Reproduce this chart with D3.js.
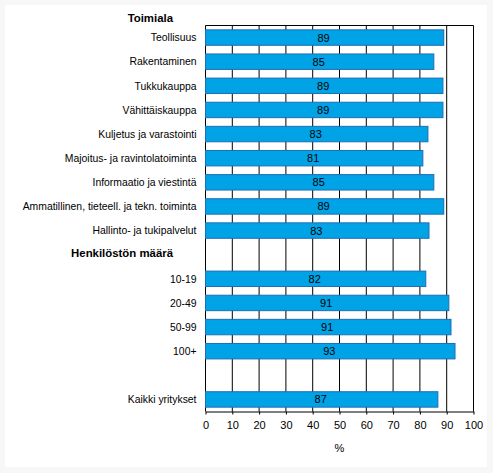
<!DOCTYPE html>
<html>
<head>
    <meta charset="utf-8" />
    <title>Toimiala</title>
    <script src="https://cdn.jsdelivr.net/npm/d3@7"></script>
    <style>
        body { margin: 0; background: #f7f7f7; }
        svg text { font-family: "Liberation Sans", Arial, sans-serif; font-size: 11px; fill: #000; }
        .cat { font-size: 10.4px; }
        .head { font-weight: bold; font-size: 11.4px; }
    </style>
</head>
<body>
    <svg width="493" height="473"></svg>
    <script>
        // rows of the chart, top to bottom ("" = empty slot, header rows have no bar)
        var categories = [
            'Teollisuus', 'Rakentaminen', 'Tukkukauppa', 'Vähittäiskauppa',
            'Kuljetus ja varastointi', 'Majoitus- ja ravintolatoiminta',
            'Informaatio ja viestintä', 'Ammatillinen, tieteell. ja tekn. toiminta',
            'Hallinto- ja tukipalvelut', 'Henkilöstön määrä',
            '10-19', '20-49', '50-99', '100+', '', 'Kaikki yritykset'
        ];
        var values = [88.9, 85.2, 88.6, 88.6, 83.0, 81.1, 85.2, 88.9, 83.4, null,
                      82.2, 90.8, 91.6, 93.1, null, 86.7];
        var labels = ['89', '85', '89', '89', '83', '81', '85', '89', '83', '',
                      '82', '91', '91', '93', '', '87'];
        var headers = ['Toimiala', 'Henkilöstön määrä'];
        var ticks = [0, 10, 20, 30, 40, 50, 60, 70, 80, 90, 100];

        var svg = d3.select('svg');
        var pLeft = 205.5, pRight = 473.5, pTop = 25.5, pBottom = 411.5;

        svg.append('rect').attr('x', 5).attr('y', 5).attr('width', 482).attr('height', 462).attr('fill', '#fff');

        var x = d3.scaleLinear().domain([0, 100]).range([pLeft, pRight]);
        var y = d3.scaleBand().domain(d3.range(categories.length)).range([pTop, pBottom]).paddingInner(0.36).paddingOuter(0.18);

        // grid lines
        svg.append('g').selectAll('line').data(ticks).enter().append('line')
            .attr('x1', function (d) { return x(d); })
            .attr('x2', function (d) { return x(d); })
            .attr('y1', pTop).attr('y2', pBottom)
            .attr('stroke', '#000').attr('stroke-width', 1);
        svg.append('line').attr('x1', pLeft).attr('x2', pRight).attr('y1', pTop).attr('y2', pTop).attr('stroke', '#000');

        // bars
        var rows = categories.map(function (c, i) { return { c: c, v: values[i], l: labels[i], i: i }; });
        var barRows = rows.filter(function (d) { return d.v !== null; });
        svg.append('g').selectAll('rect').data(barRows).enter().append('rect')
            .attr('x', x(0))
            .attr('y', function (d) { return y(d.i); })
            .attr('width', function (d) { return x(d.v) - x(0); })
            .attr('height', y.bandwidth())
            .attr('fill', '#00a3e6')
            .attr('stroke', '#1e6db5').attr('stroke-width', 1);
        svg.append('g').selectAll('text').data(barRows).enter().append('text')
            .attr('x', function (d) { return (x(0) + x(d.v)) / 2 - 1; })
            .attr('y', function (d) { return y(d.i) + y.bandwidth() / 2; })
            .attr('dy', '0.36em')
            .attr('text-anchor', 'middle')
            .text(function (d) { return d.l; });

        // category labels
        svg.append('g').selectAll('text').data(rows.filter(function (d) { return d.c !== ''; })).enter().append('text')
            .attr('class', function (d) { return headers.indexOf(d.c) >= 0 ? 'head' : 'cat'; })
            .attr('x', function (d) { return headers.indexOf(d.c) >= 0 ? 173 : 196.5; })
            .attr('y', function (d) { return y(d.i) + y.bandwidth() / 2 + (headers.indexOf(d.c) >= 0 ? -2 : 0); })
            .attr('dy', '0.36em')
            .attr('text-anchor', 'end')
            .text(function (d) { return d.c; });
        svg.append('text').attr('class', 'head').attr('x', 173).attr('y', 18).attr('dy', '0.36em')
            .attr('text-anchor', 'end').text(headers[0]);

        // x axis
        var ax = svg.append('g').attr('transform', 'translate(0,' + pBottom + ')')
            .call(d3.axisBottom(x).tickValues(ticks).tickSize(3).tickPadding(7).tickSizeOuter(0));
        ax.select('.domain').attr('stroke', '#000');
        ax.selectAll('.tick line').attr('stroke', '#000');
        ax.selectAll('text').style('font-size', '11px').attr('font-family', null);
        svg.append('text').attr('x', (pLeft + pRight) / 2).attr('y', 448).attr('dy', '0.36em')
            .attr('text-anchor', 'middle').text('%');
    </script>
</body>
</html>
